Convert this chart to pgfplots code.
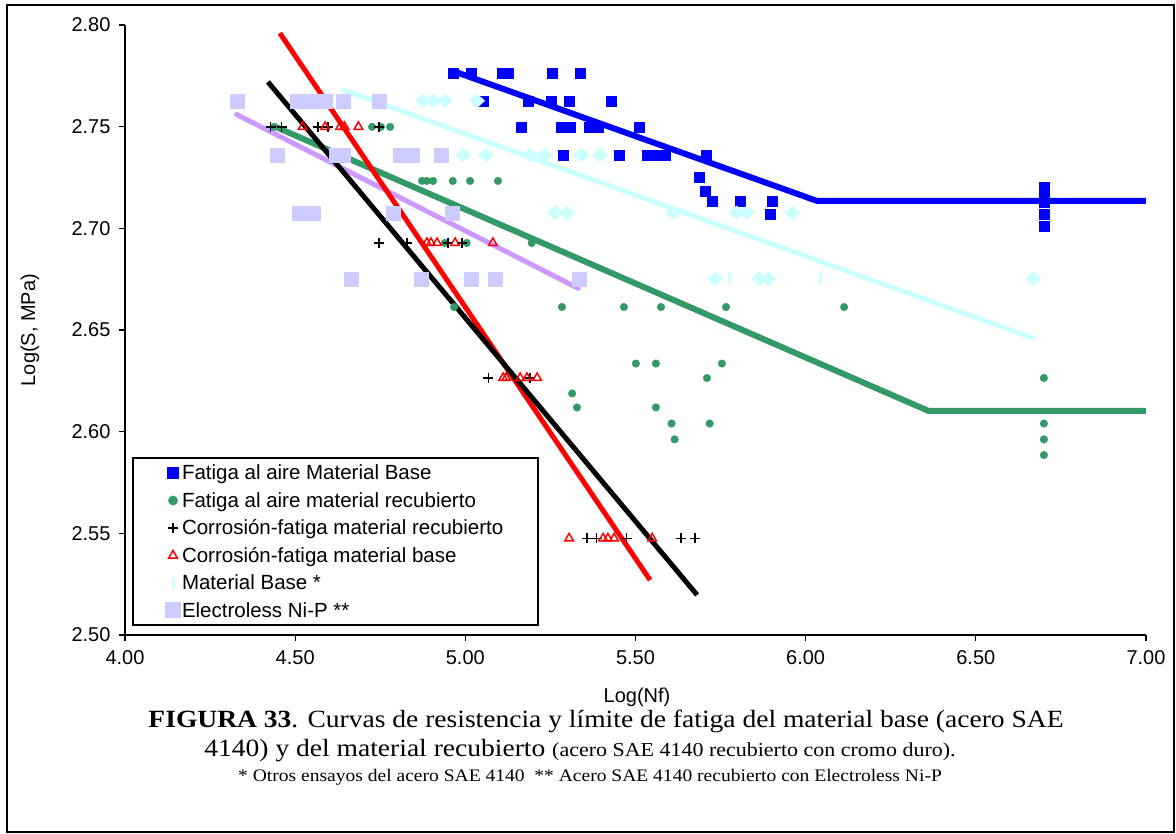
\documentclass[border=0pt]{standalone}
\usepackage{fontspec}
\setmainfont{Liberation Sans}
\newfontfamily\capfont{Liberation Serif}
\usepackage{pgfplots}
\pgfplotsset{compat=1.18}

\definecolor{mbase}{RGB}{0,0,255}
\definecolor{mrecub}{RGB}{51,153,102}
\definecolor{cyanlt}{RGB}{204,255,255}
\definecolor{lav}{RGB}{204,204,255}
\definecolor{purp}{RGB}{204,153,255}

\begin{document}
\begin{tikzpicture}
\useasboundingbox (0,0) rectangle (1176bp,834bp);
\draw[line width=1.5bp] (7bp,2bp) rectangle (1174bp,829bp);
\begin{axis}[
  scale only axis, width=1021bp, height=610bp,
  at={(125bp,199bp)}, anchor=south west,
  xmin=4, xmax=7, ymin=2.5, ymax=2.8,
  xtick={4,4.5,5,5.5,6,6.5,7},
  ytick={2.50,2.55,2.60,2.65,2.70,2.75,2.80},
  axis lines*=left,
  axis line style={line width=1.5bp},
  tick align=outside, major tick length=6bp,
  tick style={black, line width=1.2bp},
  /pgf/number format/.cd, fixed, fixed zerofill, precision=2, assume math mode=true,
  /pgfplots/.cd,
  ticklabel style={font=\fontsize{20bp}{24bp}\selectfont},
  yticklabel style={xshift=-5bp},
  xticklabel style={yshift=-6bp},
  xlabel={Log(Nf)}, ylabel={Log(S, MPa)},
  every axis x label/.style={at={(axis description cs:0.5015,-0.1025)}, anchor=center,
    font=\fontsize{20bp}{24bp}\selectfont},
  every axis y label/.style={at={(axis description cs:-0.093,0.5)}, rotate=90, anchor=center,
    font=\fontsize{20bp}{24bp}\selectfont},
  legend style={at={(axis description cs:0.00686,0.2918)}, anchor=north west,
    draw=black, line width=2bp, inner xsep=33bp, inner ysep=5bp,
    font=\fontsize{20.5bp}{24bp}\selectfont, row sep=7bp},
  legend cell align=left,
  legend image code/.code={\draw[mark repeat=2,mark phase=2] plot coordinates {(0bp,0bp) (13bp,0bp) (22bp,0bp)};},
]

% Fatiga al aire, material base
\addplot[only marks, mark=square*, mark size=5bp, color=mbase] coordinates {
(4.963,2.7764) (5.016,2.7764) (5.107,2.7764) (5.126,2.7764) (5.254,2.7764) (5.337,2.7764)
(5.052,2.7627) (5.184,2.7627) (5.252,2.7627) (5.305,2.7627) (5.428,2.7627)
(5.164,2.7499) (5.281,2.7499) (5.308,2.7499) (5.364,2.7499) (5.390,2.7499) (5.510,2.7499)
(5.287,2.7361) (5.452,2.7361) (5.534,2.7361) (5.557,2.7361) (5.587,2.7361) (5.707,2.7361)
(5.687,2.7249) (5.705,2.7184) (5.725,2.7135) (5.807,2.7135) (5.903,2.7135) (5.897,2.7071)
(6.700,2.7200) (6.700,2.7160) (6.700,2.7130) (6.700,2.7071) (6.700,2.7012)
};
\addlegendentry{Fatiga al aire Material Base}

% Fatiga al aire, material recubierto
\addplot[only marks, mark=*, mark size=3.8bp, color=mrecub] coordinates {
(4.438,2.7499) (4.726,2.7499) (4.752,2.7499) (4.779,2.7499)
(4.873,2.7233) (4.887,2.7233) (4.905,2.7233) (4.963,2.7233) (5.014,2.7233) (5.096,2.7233)
(4.940,2.6928) (5.004,2.6928) (5.195,2.6928)
(4.967,2.6613) (5.284,2.6613) (5.466,2.6613) (5.575,2.6613) (5.766,2.6613) (6.113,2.6613)
(5.501,2.6335) (5.560,2.6335) (5.754,2.6335)
(5.710,2.6264) (6.700,2.6264)
(5.314,2.6188)
(5.328,2.6119) (5.560,2.6119)
(5.606,2.6040) (5.718,2.6040) (6.700,2.6040)
(5.615,2.5962) (6.700,2.5962)
(6.700,2.5885)
};
\addlegendentry{Fatiga al aire material recubierto}

% Corrosion-fatiga, material recubierto
\addplot[only marks, mark=+, mark size=5bp, line width=1.5bp, color=black] coordinates {
(4.428,2.7499) (4.460,2.7499) (4.567,2.7499) (4.597,2.7499) (4.746,2.7499)
(4.746,2.6928) (4.829,2.6928) (4.949,2.6928) (4.990,2.6928)
(5.068,2.6264) (5.190,2.6264)
(5.357,2.5475) (5.386,2.5475) (5.474,2.5475) (5.633,2.5475) (5.675,2.5475)
};
\addlegendentry{Corrosión-fatiga material recubierto}

% Corrosion-fatiga, material base
\addplot[only marks, mark=triangle, mark size=5bp, line width=1.5bp, color=red] coordinates {
(4.522,2.7499) (4.588,2.7499) (4.632,2.7499) (4.645,2.7499) (4.686,2.7499)
(4.887,2.6928) (4.899,2.6928) (4.917,2.6928) (4.970,2.6928) (5.081,2.6928)
(5.111,2.6264) (5.120,2.6264) (5.161,2.6264) (5.181,2.6264) (5.211,2.6264)
(5.305,2.5475) (5.405,2.5475) (5.419,2.5475) (5.437,2.5475) (5.549,2.5475)
};
\addlegendentry{Corrosión-fatiga material base}

% Material base (otros ensayos)
\addplot[only marks, mark=|, mark size=6bp, line width=3bp, color=cyanlt] coordinates {
(5.776,2.6751) (6.045,2.6751)
};
\addlegendentry{Material Base *}

% Electroless Ni-P
\addplot[only marks, mark=square*, mark size=7bp, color=lav] coordinates {
(4.331,2.7627) (4.505,2.7627) (4.550,2.7627) (4.588,2.7627) (4.641,2.7627) (4.746,2.7627)
(4.446,2.7361) (4.620,2.7361) (4.640,2.7361) (4.808,2.7361) (4.843,2.7361) (4.928,2.7361)
(4.511,2.7076) (4.552,2.7076) (4.787,2.7076) (4.960,2.7076)
(4.664,2.6751) (4.870,2.6751) (5.017,2.6751) (5.087,2.6751) (5.334,2.6751)
};
\addlegendentry{Electroless Ni-P **}

% Material base (otros ensayos), remaining points
\addplot[forget plot, only marks, mark=diamond*, mark size=7bp, mark options={xscale=1.5}, color=cyanlt] coordinates {
(4.876,2.7627) (4.905,2.7627) (4.940,2.7627) (5.034,2.7627)
(4.994,2.7361) (5.061,2.7361) (5.190,2.7361) (5.234,2.7361) (5.340,2.7361) (5.396,2.7361)
(5.264,2.7076) (5.298,2.7076) (5.611,2.7076) (5.797,2.7076) (5.827,2.7076) (5.962,2.7076)
(5.734,2.6751) (5.864,2.6751) (5.890,2.6751) (6.669,2.6751)
};

% Fitted curves
\addplot[forget plot, cyanlt, line width=5bp, line cap=round] coordinates {(4.642,2.768) (6.669,2.646)};
\addplot[forget plot, mbase, line width=6bp] coordinates {(4.970,2.777) (6.033,2.7135) (7.0,2.7135)};
\addplot[forget plot, mrecub, line width=6bp] coordinates {(4.441,2.750) (6.361,2.6102) (7.0,2.6102)};
\addplot[forget plot, purp, line width=5bp, line cap=round] coordinates {(4.328,2.756) (5.332,2.6705)};
\addplot[forget plot, red, line width=5bp] coordinates {(4.455,2.796) (5.543,2.527)};
\addplot[forget plot, black, line width=5bp] coordinates {(4.420,2.772) (5.681,2.5197)};
\end{axis}

\capfont
\node[anchor=center, xscale=1.11, font=\fontsize{24.8bp}{30bp}\selectfont] at (606bp,113bp)
  {\textbf{FIGURA 33}. Curvas de resistencia y límite de fatiga del material base (acero SAE};
\node[anchor=center, xscale=1.11, font=\fontsize{24.8bp}{30bp}\selectfont] at (580bp,83bp)
  {4140) y del material recubierto {\fontsize{19.8bp}{24bp}\selectfont (acero SAE 4140 recubierto con cromo duro).}};
\node[anchor=center, xscale=1.11, font=\fontsize{17.6bp}{21bp}\selectfont] at (590bp,57bp)
  {* Otros ensayos del acero SAE 4140 \ ** Acero SAE 4140 recubierto con Electroless Ni-P};
\end{tikzpicture}
\end{document}
